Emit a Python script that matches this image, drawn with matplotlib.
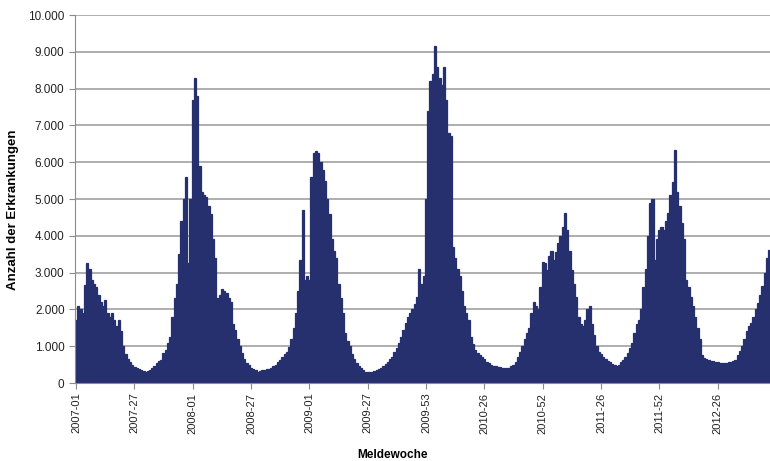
import numpy as np
import matplotlib
matplotlib.use("Agg")
import matplotlib.pyplot as plt
from matplotlib.ticker import FuncFormatter

# weekly case counts per reporting year (Meldewoche 1..n)
years = [2007, 2008, 2009, 2010, 2011, 2012]
weeks_per_year = [52, 52, 53, 52, 52, 52]

cases_2007 = [1700, 2100, 2000, 1900, 2650, 3250, 3100, 2800, 2700, 2600,
              2400, 2200, 2100, 2250, 1900, 1800, 1900, 1700, 1550, 1700,
              1400, 1000, 800, 650, 560, 500, 440, 420, 380, 360,
              320, 300, 320, 350, 400, 450, 540, 600, 620, 810,
              900, 1100, 1250, 1800, 2300, 2700, 3500, 4400, 5000, 5600,
              3250, 5000]
cases_2008 = [7700, 8300, 7800, 5900, 5200, 5100, 5050, 4800, 4600, 3900,
              3400, 2300, 2400, 2550, 2500, 2450, 2300, 2200, 1600, 1450,
              1200, 1000, 820, 650, 550, 480, 420, 380, 340, 310,
              320, 350, 360, 370, 390, 420, 450, 500, 560, 620,
              700, 780, 850, 990, 1200, 1500, 1900, 2500, 3340, 4700,
              2800, 2900]
cases_2009 = [2800, 5600, 6250, 6300, 6250, 6000, 5800, 5500, 5000, 4600,
              3900, 3600, 3400, 2700, 2300, 1900, 1350, 1150, 1000, 800,
              650, 540, 450, 400, 350, 310, 300, 290, 310, 330,
              360, 380, 420, 450, 520, 580, 650, 720, 850, 950,
              1090, 1250, 1450, 1630, 1800, 1900, 2000, 2150, 2350, 3100,
              2700, 2900, 5000]
cases_2010 = [7400, 8200, 8400, 9150, 8600, 8300, 8100, 8600, 7700, 6800,
              6700, 3700, 3400, 3100, 2900, 2500, 2100, 1900, 1700, 1250,
              1050, 900, 820, 760, 700, 640, 580, 540, 500, 470,
              450, 440, 430, 420, 410, 400, 420, 450, 500, 560,
              700, 850, 1000, 1200, 1350, 1500, 1900, 2200, 2100, 2000,
              2600, 3300]
cases_2011 = [3260, 3080, 3440, 3600, 3350, 3550, 3800, 4000, 4250, 4620,
              4170, 3600, 3080, 2700, 2350, 1800, 1600, 1540, 1700, 2000,
              2080, 1600, 1300, 1000, 850, 780, 720, 650, 600, 560,
              520, 480, 450, 500, 560, 630, 700, 810, 950, 1100,
              1350, 1600, 1700, 2000, 2600, 3100, 4000, 4900, 5000, 3350,
              3900, 4170]
cases_2012 = [4250, 4150, 4400, 4620, 5100, 5450, 6330, 5200, 4800, 4350,
              3900, 2800, 2600, 2350, 2100, 1800, 1500, 1200, 750, 680,
              650, 630, 610, 600, 580, 560, 550, 540, 540, 540,
              560, 580, 600, 630, 750, 880, 1000, 1200, 1400, 1540,
              1630, 1800, 2000, 2170, 2400, 2630, 3000, 3400, 3620, 3500,
              3800, 4200]

cases = cases_2007 + cases_2008 + cases_2009 + cases_2010 + cases_2011 + cases_2012
week_labels = [f"{y}-{w:02d}" for y, n in zip(years, weeks_per_year) for w in range(1, n + 1)]

plt.rcParams['font.family'] = ['Liberation Sans', 'DejaVu Sans']

bar_color = '#27306f'

fig = plt.figure(figsize=(7.7, 4.61), dpi=100)
ax = fig.add_axes([75 / 770, 78 / 461, 702 / 770, 368 / 461])

x = np.arange(len(cases))
ax.bar(x, cases, width=1.0, color=bar_color, edgecolor=bar_color, linewidth=0.9, zorder=2)

ax.set_xlim(-0.5, len(cases) - 0.5)
ax.set_ylim(0, 10000)
ax.set_yticks(np.arange(0, 10001, 1000))
ax.yaxis.set_major_formatter(FuncFormatter(lambda v, p: f"{int(v):,}".replace(",", ".")))
ax.grid(axis='y', color='#a8a8a8', linewidth=1.3, zorder=1)

tick_pos = x[::26]
ax.set_xticks(tick_pos)
ax.set_xticklabels([week_labels[i] for i in tick_pos], rotation=90, fontsize=8, color='#222222')
ax.tick_params(axis='y', labelsize=8.5, colors='#222222', length=4, width=0.8, color='#8c8c8c')
ax.tick_params(axis='x', length=4, width=0.8, color='#8c8c8c', pad=3)

for side in ['top', 'right']:
    ax.spines[side].set_visible(False)
ax.spines['left'].set_color('#8c8c8c')
ax.spines['bottom'].set_color('#8c8c8c')

ax.set_ylabel('Anzahl der Erkrankungen', fontsize=9.5, fontweight='bold')
ax.yaxis.set_label_coords(-56 / 702, (383 - 210) / 368)
ax.set_xlabel('Meldewoche', fontsize=8.5, fontweight='bold')
ax.xaxis.set_label_coords((392 - 75) / 702, -66 / 368)

fig.savefig('out.png', dpi=100)
